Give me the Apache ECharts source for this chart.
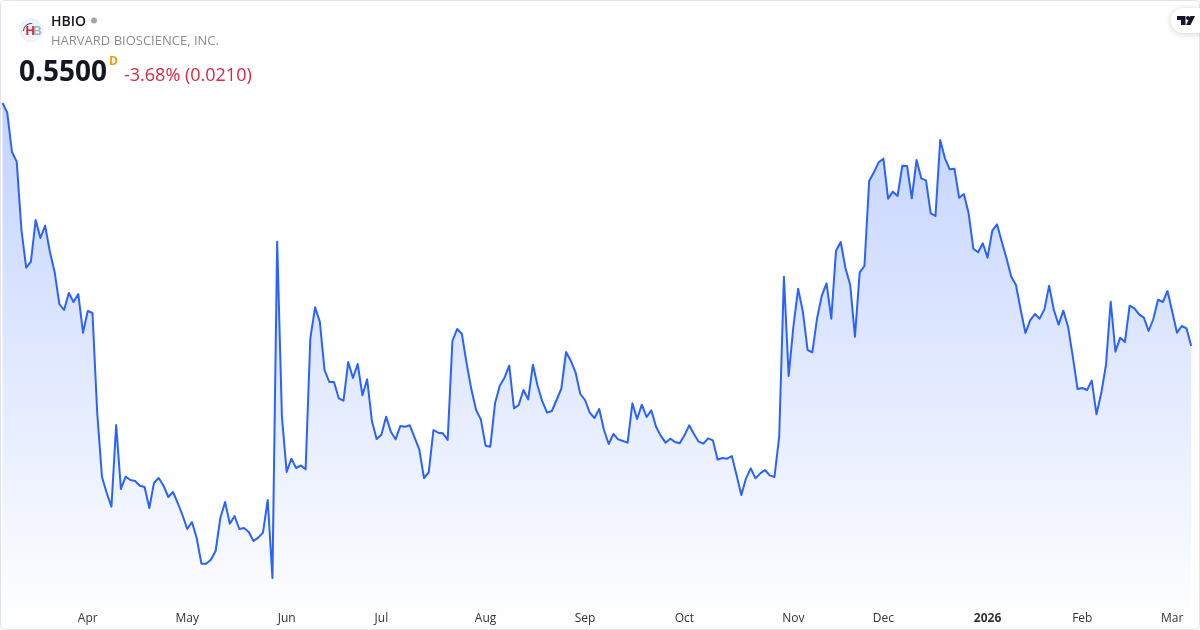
<!DOCTYPE html>
<html>
<head>
<meta charset="utf-8">
<title>HBIO</title>
<script src="https://cdn.jsdelivr.net/npm/echarts@6/dist/echarts.min.js"></script>
<style>
html, body { margin: 0; padding: 0; background: #fff; }
#chart { width: 1200px; height: 630px; }
</style>
</head>
<body>
<div id="chart"></div>
<script>
// daily closes, 2025-03-06 to 2026-03-06
var closes = [
    0.8416, 0.8300, 0.7828, 0.7712, 0.6892, 0.6440, 0.6512, 0.7012, 0.6796, 0.6944, 0.6632, 0.6392,
    0.6004, 0.5932, 0.6136, 0.6028, 0.6124, 0.5660, 0.5920, 0.5896, 0.4696, 0.3932, 0.3736, 0.3572,
    0.4552, 0.3784, 0.3932, 0.3892, 0.3880, 0.3824, 0.3808, 0.3556, 0.3860, 0.3916, 0.3824, 0.3688,
    0.3748, 0.3616, 0.3472, 0.3304, 0.3388, 0.3196, 0.2888, 0.2888, 0.2936, 0.3040, 0.3436, 0.3628,
    0.3368, 0.3460, 0.3304, 0.3316, 0.3268, 0.3160, 0.3200, 0.3260, 0.3652, 0.2716, 0.6752, 0.4652,
    0.3988, 0.4148, 0.4036, 0.4066, 0.4020, 0.5592, 0.5964, 0.5792, 0.5212, 0.5068, 0.5068, 0.4872,
    0.4844, 0.5308, 0.5116, 0.5284, 0.4908, 0.5100, 0.4600, 0.4384, 0.4436, 0.4652, 0.4472, 0.4380,
    0.4540, 0.4532, 0.4548, 0.4404, 0.4260, 0.3916, 0.3984, 0.4492, 0.4460, 0.4452, 0.4372, 0.5560,
    0.5704, 0.5644, 0.5292, 0.4980, 0.4732, 0.4620, 0.4304, 0.4292, 0.4812, 0.5024, 0.5120, 0.5264,
    0.4752, 0.4792, 0.4972, 0.4860, 0.5276, 0.5020, 0.4832, 0.4700, 0.4720, 0.4852, 0.4988, 0.5428,
    0.5324, 0.5184, 0.4924, 0.4852, 0.4700, 0.4636, 0.4744, 0.4492, 0.4324, 0.4444, 0.4380, 0.4360,
    0.4340, 0.4812, 0.4624, 0.4796, 0.4648, 0.4728, 0.4532, 0.4424, 0.4340, 0.4388, 0.4348, 0.4332,
    0.4428, 0.4548, 0.4444, 0.4352, 0.4328, 0.4392, 0.4368, 0.4136, 0.4156, 0.4148, 0.4180, 0.3952,
    0.3712, 0.3912, 0.4032, 0.3912, 0.3972, 0.4012, 0.3948, 0.3928, 0.4412, 0.6332, 0.5140, 0.5732,
    0.6188, 0.5912, 0.5452, 0.5424, 0.5832, 0.6104, 0.6252, 0.5828, 0.6644, 0.6748, 0.6432, 0.6232,
    0.5612, 0.6384, 0.6460, 0.7480, 0.7584, 0.7704, 0.7748, 0.7268, 0.7352, 0.7300, 0.7664, 0.7660,
    0.7272, 0.7732, 0.7512, 0.7488, 0.7092, 0.7060, 0.7972, 0.7752, 0.7620, 0.7628, 0.7280, 0.7324,
    0.7092, 0.6668, 0.6624, 0.6732, 0.6560, 0.6884, 0.6960, 0.6752, 0.6552, 0.6332, 0.6232, 0.5932,
    0.5656, 0.5808, 0.5884, 0.5828, 0.5940, 0.6224, 0.5932, 0.5756, 0.5924, 0.5732, 0.5372, 0.4984,
    0.4996, 0.4972, 0.5084, 0.4680, 0.4932, 0.5272, 0.6032, 0.5432, 0.5600, 0.5548, 0.5984, 0.5952,
    0.5880, 0.5840, 0.5680, 0.5824, 0.6056, 0.6028, 0.6160, 0.5912, 0.5660, 0.5740, 0.5712, 0.5500
];
// first session of each month, as an index into closes
var monthLabels = ['Apr', 'May', 'Jun', 'Jul', 'Aug', 'Sep', 'Oct', 'Nov', 'Dec', '2026', 'Feb', 'Mar'];
var monthStarts = [18, 39, 60, 80, 102, 123, 144, 167, 186, 208, 228, 247];

var ticker = 'HBIO';
var company = 'HARVARD BIOSCIENCE, INC.';
var lastPrice = '0.5500';
var lastChange = '-3.68% (0.0210)';

var fontName = '"Open Sans", "Noto Sans", sans-serif';

var indexes = [];
for (var i = 0; i < closes.length; i++) {
    indexes.push(i);
}

var myChart = echarts.init(document.getElementById('chart'));
myChart.setOption({
    animation: false,
    backgroundColor: '#fff',
    textStyle: { fontFamily: fontName },
    grid: { left: 2.5, right: 8.8, top: 0, bottom: 0 },
    xAxis: {
        type: 'category',
        boundaryGap: false,
        data: indexes,
        axisLine: { show: false },
        axisTick: { show: false },
        splitLine: { show: false },
        axisLabel: {
            inside: true,
            margin: 5,
            hideOverlap: false,
            color: '#333',
            fontSize: 12,
            fontFamily: fontName,
            interval: function (index) {
                return monthStarts.indexOf(index) >= 0;
            },
            formatter: function (value) {
                var label = monthLabels[monthStarts.indexOf(Number(value))];
                return label === '2026' ? '{year|' + label + '}' : label;
            },
            rich: {
                year: { fontWeight: 'bold', fontSize: 12, color: '#333', fontFamily: fontName }
            }
        }
    },
    yAxis: {
        type: 'value',
        show: false,
        min: 0.2092,
        max: 0.9652,
        splitLine: { show: false }
    },
    series: [{
        type: 'line',
        data: closes,
        showSymbol: false,
        silent: true,
        lineStyle: { color: '#2962ff', width: 2, join: 'round' },
        areaStyle: {
            origin: 'start',
            opacity: 1,
            color: new echarts.graphic.LinearGradient(0, 0, 0, 1, [
                { offset: 0, color: 'rgba(41,98,255,0.28)' },
                { offset: 1, color: 'rgba(41,98,255,0)' }
            ])
        }
    }],
    graphic: [
        // card border
        {
            type: 'rect', z: 10, silent: true,
            shape: { x: 0.5, y: 0.5, width: 1199, height: 629, r: 4 },
            style: { fill: 'none', stroke: '#e0e3eb', lineWidth: 1 }
        },
        // logo
        {
            type: 'circle', z: 10,
            shape: { cx: 31, cy: 30, r: 12 },
            style: { fill: '#eef2f9' }
        },
        {
            type: 'arc', z: 11,
            shape: { cx: 31, cy: 31, r: 7.5, startAngle: Math.PI, endAngle: Math.PI * 1.55 },
            style: { fill: 'none', stroke: '#3a4a5c', lineWidth: 1 }
        },
        {
            type: 'text', z: 11, x: 25.5, y: 25,
            style: { text: 'H', fill: '#e0232e', font: 'bold 13px "Liberation Sans", sans-serif' }
        },
        {
            type: 'text', z: 11, x: 33, y: 25.5,
            style: { text: 'B', fill: '#9fb3c4', font: 'bold 12px "Liberation Sans", sans-serif' }
        },
        // header
        {
            type: 'text', z: 11, x: 51, y: 15,
            style: { text: ticker, fill: '#131722', font: '600 14px ' + fontName }
        },
        {
            type: 'circle', z: 11,
            shape: { cx: 94, cy: 20.5, r: 3 },
            style: { fill: '#a6a6a6' }
        },
        {
            type: 'text', z: 11, x: 51, y: 35,
            style: { text: company, fill: '#8c8c8c', font: '13px ' + fontName }
        },
        {
            type: 'text', z: 11, x: 19, y: 59,
            style: { text: lastPrice, fill: '#131722', font: 'bold 28px ' + fontName }
        },
        {
            type: 'text', z: 11, x: 109, y: 56,
            style: { text: 'D', fill: '#f59c0b', font: 'bold 12px ' + fontName }
        },
        {
            type: 'text', z: 11, x: 124, y: 67,
            style: { text: lastChange, fill: '#d6293e', font: '18px ' + fontName }
        },
        // TradingView badge
        {
            type: 'rect', z: 10,
            shape: { x: 1171, y: 8, width: 40, height: 25, r: 12 },
            style: { fill: '#fff', shadowBlur: 6, shadowColor: 'rgba(0,0,0,0.18)', shadowOffsetY: 1 }
        },
        {
            type: 'polygon', z: 11,
            shape: { points: [[1177, 16], [1185.5, 16], [1185.5, 25], [1181, 25], [1181, 20], [1177, 20]] },
            style: { fill: '#131722' }
        },
        {
            type: 'circle', z: 11,
            shape: { cx: 1188, cy: 18, r: 2 },
            style: { fill: '#131722' }
        },
        {
            type: 'polygon', z: 11,
            shape: { points: [[1190.5, 16], [1195, 16], [1190.5, 25], [1186, 25]] },
            style: { fill: '#131722' }
        }
    ]
});
</script>
</body>
</html>
